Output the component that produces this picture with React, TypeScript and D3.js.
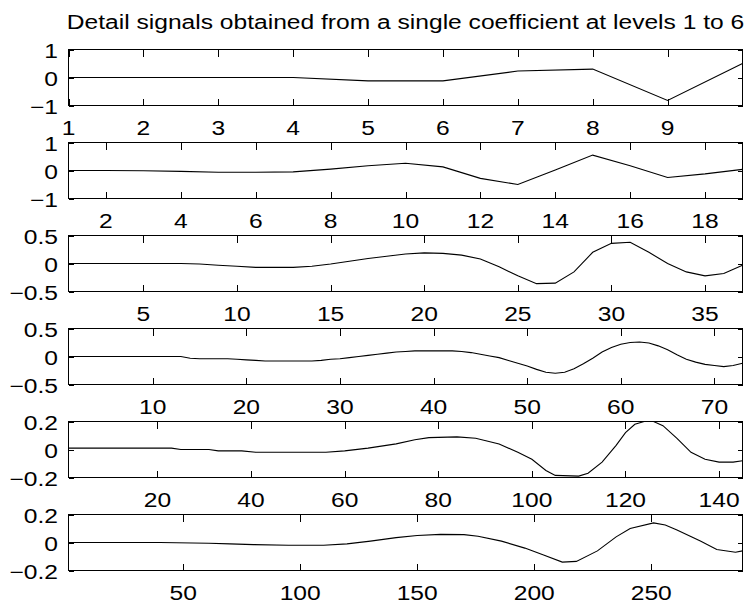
import { useEffect, useRef } from "react";
import * as d3 from "d3";

const title = "Detail signals obtained from a single coefficient at levels 1 to 6";

// level 1..4: one value per sample, x = 1..n
const level1 = [0, 0, 0, 0, -0.12, -0.12, 0.23, 0.3, -0.82, 0.5];
const level2 = [0, 0, -0.01, -0.03, -0.06, -0.06, -0.05, 0.05, 0.17, 0.26, 0.13, -0.28, -0.5, 0.02, 0.55, 0.17, -0.25, -0.12, 0.04];
const level3 = [
  0, 0, 0, 0, 0, 0, 0, -0.01, -0.03, -0.05, -0.07, -0.07, -0.07, -0.05, -0.01, 0.04, 0.09,
  0.13, 0.17, 0.19, 0.18, 0.15, 0.08, -0.06, -0.22, -0.36, -0.35, -0.15, 0.2, 0.36, 0.38,
  0.2, 0, -0.15, -0.22, -0.18, -0.03,
];
const level4 = [
  0, 0, 0, 0, 0, 0, 0, 0, 0, 0, 0, 0, 0,
  -0.03, -0.04, -0.04, -0.04, -0.04, -0.05, -0.06,
  -0.07, -0.08, -0.08, -0.08, -0.08, -0.08, -0.08,
  -0.07, -0.05, -0.04, -0.02, 0, 0.02, 0.04, 0.06, 0.08, 0.09,
  0.1, 0.1, 0.1, 0.1, 0.1, 0.09, 0.07, 0.04, 0.01, -0.02,
  -0.07, -0.12, -0.17, -0.23, -0.28, -0.3, -0.28, -0.22, -0.13, -0.03,
  0.08, 0.16, 0.22, 0.25, 0.26, 0.24, 0.19, 0.12, 0.03, -0.05,
  -0.1, -0.14, -0.16, -0.18, -0.16, -0.12,
];
// level 5 and 6 read at selected samples
const level5X = [1, 9, 17, 23, 25, 31, 33, 38, 41, 49, 56, 60, 65, 71, 75, 78, 84, 88, 93, 97, 100, 103, 105, 110, 112, 115, 118, 120, 122, 124, 126, 128, 131, 134, 137, 140, 143, 145];
const level5Y = [0.01, 0.01, 0.01, 0.01, 0, 0, -0.01, -0.01, -0.02, -0.02, -0.02, -0.01, 0.01, 0.04, 0.07, 0.085, 0.09, 0.08, 0.04, -0.02, -0.07, -0.15, -0.185, -0.19, -0.17, -0.09, 0.03, 0.12, 0.18, 0.2, 0.2, 0.17, 0.08, -0.02, -0.07, -0.09, -0.09, -0.08];
const level6X = [1, 40, 61, 70, 80, 95, 110, 120, 130, 141, 150, 160, 170, 176, 186, 196, 204, 212, 218, 227, 235, 241, 251, 256, 261, 271, 278, 286, 289];
const level6Y = [0, 0, -0.005, -0.01, -0.015, -0.02, -0.02, -0.01, 0.01, 0.035, 0.05, 0.058, 0.056, 0.045, 0.01, -0.04, -0.09, -0.14, -0.135, -0.06, 0.04, 0.1, 0.14, 0.125, 0.09, 0.01, -0.05, -0.07, -0.06];

const xTicks1 = [1, 2, 3, 4, 5, 6, 7, 8, 9];
const xTicks2 = [2, 4, 6, 8, 10, 12, 14, 16, 18];
const xTicks3 = [5, 10, 15, 20, 25, 30, 35];
const xTicks4 = [10, 20, 30, 40, 50, 60, 70];
const xTicks5 = [20, 40, 60, 80, 100, 120, 140];
const xTicks6 = [50, 100, 150, 200, 250];

const yTicksA = [-1, 0, 1];
const yTicksB = [-0.5, 0, 0.5];
const yTicksC = [-0.2, 0, 0.2];

const W = 750;
const H = 606;
const LEFT = 68.5;
const RIGHT = 742.5;
const TOP0 = 49.5;
const STEP = 93;
const PH = 56;
const FONT = '"Liberation Sans", Arial, Helvetica, sans-serif';
const FS = 20;
const SX = 1.23; // picture is stretched sideways

const idx = (a: number[]) => a.map((_, i) => i + 1);

const panels = [
  { xs: idx(level1), ys: level1, xMax: 10, xTicks: xTicks1, yTicks: yTicksA },
  { xs: idx(level2), ys: level2, xMax: 19, xTicks: xTicks2, yTicks: yTicksA },
  { xs: idx(level3), ys: level3, xMax: 37, xTicks: xTicks3, yTicks: yTicksB },
  { xs: idx(level4), ys: level4, xMax: 73, xTicks: xTicks4, yTicks: yTicksB },
  { xs: level5X, ys: level5Y, xMax: 145, xTicks: xTicks5, yTicks: yTicksC },
  { xs: level6X, ys: level6Y, xMax: 289, xTicks: xTicks6, yTicks: yTicksC },
];

const fmt = (v: number) => String(v).replace("-", "\u2212");

export default function App() {
  const svgRef = useRef<SVGSVGElement>(null);

  useEffect(() => {
    const svg = d3.select(svgRef.current);
    svg.selectAll("*").remove();

    svg.append("rect").attr("width", W).attr("height", H).attr("fill", "#fff");

    svg.append("text")
      .attr("transform", `translate(${(LEFT + RIGHT) / 2},29) scale(${SX},1)`)
      .attr("text-anchor", "middle")
      .attr("font-family", FONT)
      .attr("font-size", FS)
      .attr("fill", "#000")
      .text(title);

    panels.forEach((p, i) => {
      const top = TOP0 + i * STEP;
      const bottom = top + PH;
      const ext = p.yTicks[p.yTicks.length - 1];

      const x = d3.scaleLinear().domain([1, p.xMax]).range([LEFT, RIGHT]);
      const y = d3.scaleLinear().domain([-ext, ext]).range([bottom, top]);

      const g = svg.append("g");

      const line = d3.line<number>()
        .x((_, j) => x(p.xs[j]))
        .y((d) => y(d));

      g.append("path")
        .datum(p.ys)
        .attr("d", line)
        .attr("fill", "none")
        .attr("stroke", "#000")
        .attr("stroke-width", 1.1);

      // box
      g.append("rect")
        .attr("x", LEFT)
        .attr("y", top)
        .attr("width", RIGHT - LEFT)
        .attr("height", PH)
        .attr("fill", "none")
        .attr("stroke", "#000")
        .attr("stroke-width", 1)
        .attr("shape-rendering", "crispEdges");

      // x ticks, inward on top and bottom
      p.xTicks.forEach((t) => {
        const px = Math.round(x(t)) + 0.5;
        g.append("line").attr("x1", px).attr("x2", px).attr("y1", top).attr("y2", top + 7)
          .attr("stroke", "#000").attr("shape-rendering", "crispEdges");
        g.append("line").attr("x1", px).attr("x2", px).attr("y1", bottom).attr("y2", bottom - 7)
          .attr("stroke", "#000").attr("shape-rendering", "crispEdges");
        g.append("text")
          .attr("transform", `translate(${x(t)},${bottom + 29.5}) scale(${SX},1)`)
          .attr("text-anchor", "middle")
          .attr("font-family", FONT)
          .attr("font-size", FS)
          .attr("fill", "#000")
          .text(fmt(t));
      });

      // y ticks, inward on left and right
      p.yTicks.forEach((t) => {
        const py = Math.round(y(t)) + 0.5;
        g.append("line").attr("x1", LEFT).attr("x2", LEFT + 5).attr("y1", py).attr("y2", py)
          .attr("stroke", "#000").attr("shape-rendering", "crispEdges");
        g.append("line").attr("x1", RIGHT).attr("x2", RIGHT - 5).attr("y1", py).attr("y2", py)
          .attr("stroke", "#000").attr("shape-rendering", "crispEdges");
        g.append("text")
          .attr("transform", `translate(58,${y(t) + 8}) scale(${SX},1)`)
          .attr("text-anchor", "end")
          .attr("font-family", FONT)
          .attr("font-size", FS)
          .attr("fill", "#000")
          .text(fmt(t));
      });
    });
  }, []);

  return (
    <svg
      ref={svgRef}
      width={W}
      height={H}
      style={{ position: "absolute", left: 0, top: 0, display: "block" }}
    />
  );
}
